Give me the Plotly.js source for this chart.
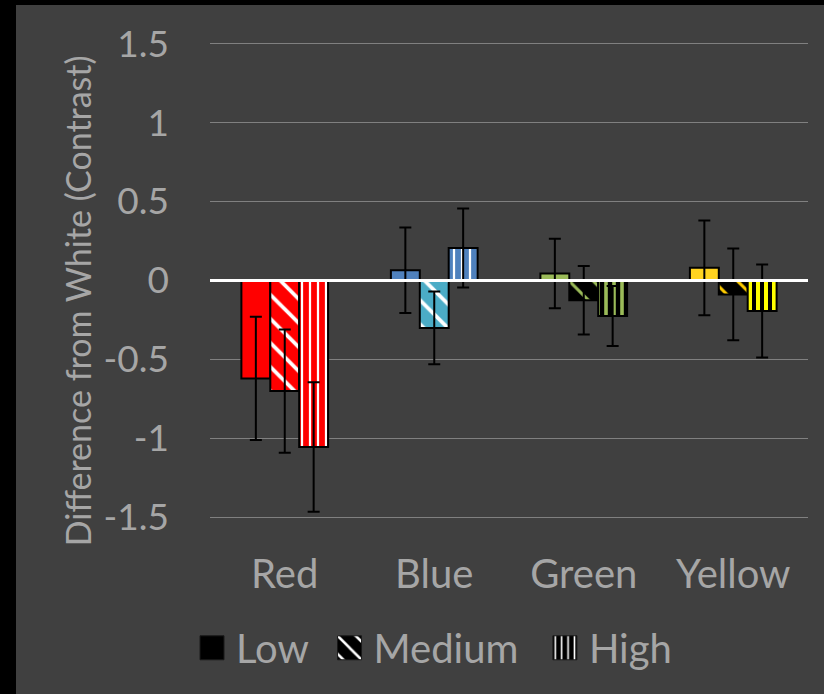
<!DOCTYPE html>
<html>
<head>
<meta charset="utf-8">
<script src="https://cdn.plot.ly/plotly-3.0.1.min.js"></script>
<style>
html,body{margin:0;padding:0;background:#000;width:824px;height:694px;overflow:hidden;}
#chart{position:absolute;left:16px;top:5px;width:808px;height:689px;}
</style>
</head>
<body>
<div id="chart"></div>
<script>
// ---- data ----
const categories = ['Red', 'Blue', 'Green', 'Yellow'];
const lowValues = [-0.62, 0.065, 0.045, 0.08];
const lowErrors = [0.39, 0.27, 0.22, 0.30];
const mediumValues = [-0.70, -0.30, -0.125, -0.088];
const mediumErrors = [0.39, 0.23, 0.217, 0.29];
const highValues = [-1.054, 0.206, -0.225, -0.193];
const highErrors = [0.41, 0.25, 0.19, 0.295];
const seriesNames = ['Low', 'Medium', 'High'];
const yTickVals = [-1.5, -1, -0.5, 0, 0.5, 1, 1.5];
const yTickText = ['-1.5', '-1', '-0.5', '0', '0.5', '1', '1.5'];
const yTitle = 'Difference from White (Contrast)';

// ---- styles ----
const lowColors = ['#FF0000', '#4F81BD', '#9BBB59', '#FFD320'];
const medBg = ['#FF0000', '#4BACC6', '#000000', '#000000'];
const medFg = ['#FFFFFF', '#FFFFFF', '#9BBB59', '#FFCC00'];
const medSolid = [0.22, 0.22, 0.18, 0.18];
const highBg = ['#FF0000', '#4F81BD', '#000000', '#000000'];
const highFg = ['#FFFFFF', '#FFFFFF', '#9BBB59', '#FFFF00'];
const highSolid = [0.28, 0.28, 0.45, 0.5];
const gray = '#A6A6A6';
const fontFam = 'Lato, Carlito, "Open Sans", sans-serif';
const pad = '\u00a0\u00a0';

function err(arr) {
  return {type: 'data', array: arr, visible: true, color: '#000000', thickness: 2, width: 6};
}
const outline = {color: '#000000', width: 2};

const traces = [
  {type: 'bar', x: categories, y: lowValues, name: seriesNames[0], offsetgroup: 'low', showlegend: false,
   marker: {color: lowColors, line: outline}, error_y: err(lowErrors)},
  {type: 'bar', x: categories, y: mediumValues, name: seriesNames[1], offsetgroup: 'med', showlegend: false,
   marker: {color: '#000000', line: outline,
            pattern: {shape: '\\', bgcolor: medBg, fgcolor: medFg, fgopacity: 1, solidity: medSolid, size: 17, fillmode: 'replace'}},
   error_y: err(mediumErrors)},
  {type: 'bar', x: categories, y: highValues, name: seriesNames[2], offsetgroup: 'high', showlegend: false,
   marker: {color: '#000000', line: outline,
            pattern: {shape: '|', bgcolor: highBg, fgcolor: highFg, fgopacity: 1, solidity: highSolid, size: 8, fillmode: 'replace'}},
   error_y: err(highErrors)},
  // legend-only entries
  {type: 'bar', x: [categories[0]], y: [null], name: seriesNames[0] + pad, offsetgroup: 'low',
   marker: {color: '#000000', line: {color: '#1a1a1a', width: 0.5}}},
  {type: 'bar', x: [categories[0]], y: [null], name: seriesNames[1] + pad + '\u2009', offsetgroup: 'med',
   marker: {color: '#000000', line: {color: '#1a1a1a', width: 0.5},
            pattern: {shape: '\\', bgcolor: '#000000', fgcolor: '#FFFFFF', fgopacity: 1, solidity: 0.2, size: 8, fillmode: 'replace'}}},
  {type: 'bar', x: [categories[0]], y: [null], name: seriesNames[2], offsetgroup: 'high',
   marker: {color: '#000000', line: {color: '#1a1a1a', width: 0.5},
            pattern: {shape: '|', bgcolor: '#000000', fgcolor: '#FFFFFF', fgopacity: 1, solidity: 0.25, size: 4, fillmode: 'replace'}}}
];

const layout = {
  width: 808, height: 689,
  paper_bgcolor: '#404040', plot_bgcolor: '#404040',
  margin: {l: 194, r: 16, t: 37, b: 175},
  font: {family: fontFam, color: gray},
  barmode: 'group', bargap: 0.42, bargroupgap: 0,
  showlegend: true,
  legend: {orientation: 'h', x: -0.0234, xanchor: 'left', y: -0.27, yanchor: 'middle',
           font: {size: 40, color: gray, family: fontFam}, bgcolor: 'rgba(0,0,0,0)', traceorder: 'normal'},
  xaxis: {type: 'category', showgrid: false, zeroline: false, showline: false, ticks: '',
          tickfont: {size: 40, color: gray, family: fontFam}, ticklabelstandoff: 28, fixedrange: true},
  yaxis: {range: [-1.51, 1.51], tickvals: yTickVals, ticktext: yTickText, showgrid: true,
          gridcolor: '#808080', gridwidth: 1.5, zeroline: false, showline: false, ticks: '',
          tickfont: {size: 37, color: gray, family: fontFam}, ticklabelstandoff: 40, fixedrange: true},
  shapes: [{type: 'line', xref: 'paper', x0: 0, x1: 1, yref: 'y', y0: 0, y1: 0,
            line: {color: '#FFFFFF', width: 3}, layer: 'above'}],
  annotations: [{text: yTitle, xref: 'paper', yref: 'paper', x: -0.222, y: 0.457,
                 xanchor: 'center', yanchor: 'middle', textangle: -90, showarrow: false,
                 font: {size: 34, color: gray, family: fontFam}}]
};

Plotly.newPlot('chart', traces, layout, {displayModeBar: false, staticPlot: true}).then(function () {
  document.querySelectorAll('.legend .legendpoints path').forEach(function (p) {
    p.setAttribute('transform', 'translate(16,0) scale(2)');
  });
});
</script>
</body>
</html>
